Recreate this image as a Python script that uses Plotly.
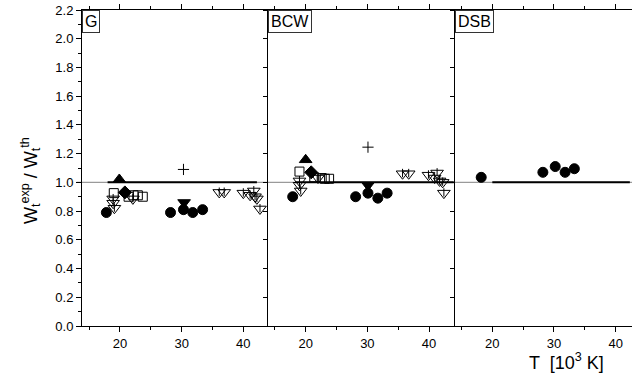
import plotly.graph_objects as go

# ---------------- data ----------------
panels = ["G", "BCW", "DSB"]

# Panel G
g_circle_T = [17.8, 28.2, 30.3, 31.8, 33.4]
g_circle_v = [0.79, 0.79, 0.81, 0.79, 0.81]
g_tri_T = [19.9]
g_tri_v = [1.02]
g_dia_T = [20.8]
g_dia_v = [0.93]
g_tridn_T = [30.4]
g_tridn_v = [0.86]
g_plus_T = [30.3]
g_plus_v = [1.09]
g_sq_T = [19.0, 21.4, 22.2, 22.9, 23.7]
g_sq_v = [0.925, 0.90, 0.91, 0.91, 0.90]
g_otri_T = [18.9, 18.9, 19.1, 22.1, 36.1, 36.9, 40.0, 41.7, 41.1, 41.9, 42.2, 42.7]
g_otri_v = [0.885, 0.855, 0.82, 0.885, 0.93, 0.93, 0.925, 0.94, 0.91, 0.90, 0.885, 0.815]

# Panel BCW
b_circle_T = [17.9, 28.1, 30.1, 31.7, 33.2]
b_circle_v = [0.90, 0.90, 0.925, 0.89, 0.925]
b_tri_T = [20.0]
b_tri_v = [1.157]
b_dia_T = [20.9]
b_dia_v = [1.07]
b_tridn_T = [30.1]
b_tridn_v = [0.98]
b_plus_T = [30.1]
b_plus_v = [1.245]
b_sq_T = [19.0, 21.4, 22.6, 23.1, 23.8]
b_sq_v = [1.075, 1.035, 1.03, 1.025, 1.025]
b_otri_T = [19.0, 19.0, 19.2, 22.0, 35.7, 36.7, 39.9, 41.3, 40.9, 41.7, 42.2, 42.4]
b_otri_v = [1.01, 0.98, 0.94, 1.03, 1.06, 1.06, 1.05, 1.065, 1.03, 1.01, 1.0, 0.925]

# Panel DSB
d_circle_T = [18.2, 28.2, 30.2, 31.8, 33.3]
d_circle_v = [1.035, 1.07, 1.11, 1.07, 1.095]

# unity fit lines (T range per panel)
fit_T = [[18.0, 42.2], [18.3, 44.0], [20.0, 42.3]]
fit_v = [1.0, 1.0]

y_ticks = [0.0, 0.2, 0.4, 0.6, 0.8, 1.0, 1.2, 1.4, 1.6, 1.8, 2.0, 2.2]
y_ticktext = ["0.0", "0.2", "0.4", "0.6", "0.8", "1.0", "1.2", "1.4", "1.6", "1.8", "2.0", "2.2"]
x_ticks = [20, 30, 40]

# ---------------- figure ----------------
W, H = 632, 376
ML, MR, MT, MB = 82, 0, 10, 50
PW = W - ML - MR

def px(p):
    return (p - ML) / PW

domains = [[0, px(268)], [px(268), px(455)], [px(455), 1.0]]
xranges = [[13.85, 44.0], [13.9, 44.2], [13.95, 42.65]]

fig = go.Figure()
FONT = "Liberation Sans, Arial, sans-serif"

def add(xi, T, v, symbol, size, lw=1):
    ax = "x" if xi == 1 else f"x{xi}"
    ay = "y" if xi == 1 else f"y{xi}"
    fig.add_trace(go.Scatter(
        x=T, y=v, mode="markers", xaxis=ax, yaxis=ay, showlegend=False,
        marker=dict(symbol=symbol, size=size, color="black",
                    line=dict(color="black", width=lw))))

def addline(xi, T, v):
    ax = "x" if xi == 1 else f"x{xi}"
    ay = "y" if xi == 1 else f"y{xi}"
    fig.add_trace(go.Scatter(x=T, y=v, mode="lines", xaxis=ax, yaxis=ay,
                             showlegend=False,
                             line=dict(color="black", width=2)))

for i in range(3):
    addline(i + 1, fit_T[i], fit_v)

# G
add(1, g_sq_T, g_sq_v, "square-open", 9)
add(1, g_otri_T, g_otri_v, "triangle-down-open", 11)
add(1, g_otri_T, [v + 0.005 for v in g_otri_v], "line-ns", 6)
add(1, g_circle_T, g_circle_v, "circle", 10)
add(1, g_tri_T, g_tri_v, "triangle-up", 11)
add(1, g_dia_T, g_dia_v, "diamond", 10)
add(1, g_tridn_T, g_tridn_v, "triangle-down", 11)
add(1, g_plus_T, g_plus_v, "cross-thin", 8)

# BCW
add(2, b_sq_T, b_sq_v, "square-open", 9)
add(2, b_otri_T, b_otri_v, "triangle-down-open", 11)
add(2, b_otri_T, [v + 0.005 for v in b_otri_v], "line-ns", 6)
add(2, b_circle_T, b_circle_v, "circle", 10)
add(2, b_tri_T, b_tri_v, "triangle-up", 11)
add(2, b_dia_T, b_dia_v, "diamond", 10)
add(2, b_tridn_T, b_tridn_v, "triangle-down", 11)
add(2, b_plus_T, b_plus_v, "cross-thin", 8)

# DSB
add(3, d_circle_T, d_circle_v, "circle", 10)

layout = dict(
    width=W, height=H,
    margin=dict(l=ML, r=MR, t=MT, b=MB, pad=0),
    plot_bgcolor="white", paper_bgcolor="white",
    font=dict(family=FONT, size=13, color="black"),
    showlegend=False,
)

for i in range(3):
    sfx = "" if i == 0 else str(i + 1)
    layout["xaxis" + sfx] = dict(
        domain=domains[i], range=xranges[i], anchor="y" + sfx,
        tickvals=x_ticks, ticks="outside", ticklen=5, tickwidth=1,
        tickcolor="black", showline=True, linecolor="black", linewidth=1,
        mirror="ticks", showgrid=False, zeroline=False,
        tickfont=dict(size=13, family=FONT),
        minor=dict(tickvals=[15, 25, 35], ticks="outside", ticklen=3,
                   tickcolor="black", showgrid=False),
    )
    yax = dict(
        domain=[0, 1], range=[0, 2.2], anchor="x" + sfx,
        tickvals=y_ticks, ticktext=y_ticktext, ticks="outside", ticklen=5,
        tickwidth=1, tickcolor="black", showline=True, linecolor="black",
        linewidth=1, mirror=(i == 2), showgrid=False, zeroline=False,
        showticklabels=(i == 0),
        tickfont=dict(size=13, family=FONT),
    )
    if i == 0:
        yax["minor"] = dict(dtick=0.1, tick0=0, ticks="outside", ticklen=3,
                            tickcolor="black", showgrid=False)
    else:
        yax["ticklen"] = 4
    layout["yaxis" + sfx] = yax

fig.update_layout(**layout)

# gray reference line at 1.0 across full width
fig.add_shape(type="line", xref="paper", yref="y", x0=-0.01, x1=1.0,
              y0=1.0, y1=1.0, line=dict(color="#9a9a9a", width=1.2),
              layer="below")

# panel labels
for i, name in enumerate(panels):
    sfx = "" if i == 0 else str(i + 1)
    fig.add_annotation(text=name, xref=("x" + sfx + " domain"),
                       yref=("y" + sfx + " domain"), x=0, y=1,
                       xanchor="left", yanchor="top", showarrow=False,
                       font=dict(size=16, family=FONT, color="black"),
                       bordercolor="#333", borderwidth=1, borderpad=2,
                       bgcolor="white")

# axis titles
fig.add_annotation(text="W<sub>t</sub><sup>exp</sup> / W<sub>t</sub><sup>th</sup>",
                   xref="paper", yref="paper", x=px(30), y=(376 - 50 - 181) / (376 - 60),
                   xanchor="center", yanchor="middle", textangle=-90,
                   showarrow=False, font=dict(size=18, family=FONT))
fig.add_annotation(text="T  [10<sup>3</sup> K]",
                   xref="paper", yref="paper", x=px(566), y=-(375 - 326) / 316,
                   xanchor="center", yanchor="bottom",
                   showarrow=False, font=dict(size=18, family=FONT))

fig.write_html("out.html")
